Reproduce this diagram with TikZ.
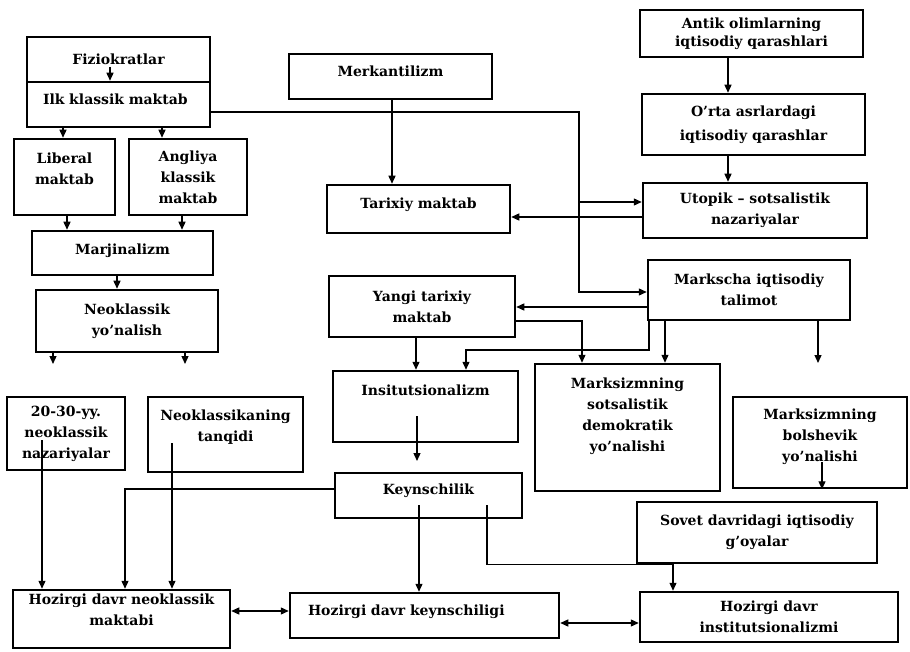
\documentclass[tikz,border=0pt]{standalone}
\usepackage{fontspec}
\setmainfont{DejaVu Serif}
\usetikzlibrary{arrows.meta,calc}
\newcommand\boxnode[6][]{\node[bx,#1,minimum width={(#4-#2)*1pt},minimum height={(#5-#3)*1pt}] (#6) at ({(#2+#4)/2},{(#3+#5)/2})}
\begin{document}
\begin{tikzpicture}[x=1pt,y=-1pt,
  bx/.style={draw, line width=2.5pt, align=center, font=\fontsize{14}{21}\selectfont\bfseries, inner sep=0pt},
  ln/.style={line width=1.3pt},
  arr/.style={ln, -{Triangle[length=8pt,width=7pt]}},
  darr/.style={ln, {Triangle[length=8pt,width=7pt]}-{Triangle[length=8pt,width=7pt]}}]
\useasboundingbox (0,0) rectangle (910,652);
\fill[white] (0,0) rectangle (910,652);

% boxes
\boxnode{27}{37}{210}{82}{fiz} {Fiziokratlar};
\boxnode[align=left,text width=151pt,inner xsep=16pt,text depth=10pt]{27}{82}{210}{127}{ilk} {Ilk klassik maktab};
\boxnode[text depth=16pt]{14}{139}{115}{215}{lib} {Liberal\\maktab};
\boxnode{129}{139}{247}{215}{ang} {Angliya\\klassik\\maktab};
\boxnode[text depth=8pt]{32}{231}{213}{275}{mar} {Marjinalizm};
\boxnode{36}{290}{218}{352}{neo} {Neoklassik\\yo’nalish};
\boxnode[text depth=10pt]{289}{54}{492}{99}{mer} {Merkantilizm};
\boxnode[text depth=12pt]{327}{185}{510}{233}{tar} {Tarixiy maktab};
\boxnode[font=\fontsize{14}{18}\selectfont\bfseries]{640}{10}{863}{57}{ant} {Antik olimlarning\\iqtisodiy qarashlari};
\boxnode[font=\fontsize{14}{24}\selectfont\bfseries]{642}{94}{865}{155}{ort} {O’rta asrlardagi\\iqtisodiy qarashlar};
\boxnode{643}{183}{867}{238}{uto} {Utopik – sotsalistik\\nazariyalar};
\boxnode{648}{260}{850}{320}{mark} {Markscha iqtisodiy\\talimot};
\boxnode{329}{276}{515}{337}{yan} {Yangi tarixiy\\maktab};
\boxnode[text depth=32pt]{333}{371}{518}{442}{ins} {Insitutsionalizm};
\boxnode[text depth=26pt]{535}{364}{720}{491}{sots} {Marksizmning\\sotsalistik\\demokratik\\yo’nalishi};
\boxnode[text depth=14pt]{733}{397}{907}{488}{bol} {Marksizmning\\bolshevik\\yo’nalishi};
\boxnode{7}{397}{125}{470}{k20} {20-30-yy.\\neoklassik\\nazariyalar};
\boxnode[text depth=18pt]{148}{397}{303}{472}{nkt} {Neoklassikaning\\tanqidi};
\boxnode[text depth=12pt]{335}{473}{522}{518}{key} {Keynschilik};
\boxnode{637}{502}{877}{563}{sov} {Sovet davridagi iqtisodiy\\g’oyalar};
\boxnode[text depth=18pt]{13}{590}{230}{648}{hneo} {Hozirgi davr neoklassik\\maktabi};
\boxnode[align=left,text width=233pt,inner xsep=18pt,text depth=10pt]{290}{593}{559}{638}{hkey} {Hozirgi davr keynschiligi};
\boxnode{640}{592}{898}{642}{hins} {Hozirgi davr\\institutsionalizmi};

% free ends and inner starts
\coordinate (fizin) at (110,67);
\coordinate (n1) at (53,364);
\coordinate (n2) at (185,364);
\coordinate (n3) at (818,363);
\coordinate (insin) at (417,416);
\coordinate (insout) at (417,461);
\coordinate (keyin1) at (419,505);
\coordinate (keyin2) at (487,505);
\coordinate (k20in) at (42,440);
\coordinate (nktin) at (172,443);
\coordinate (bolin) at (822,462);

% left column
\draw[arr] (fizin) -- (110,0 |- ilk.north);
\draw[arr] (63,0 |- ilk.south) -- (63,0 |- lib.north);
\draw[arr] (162,0 |- ilk.south) -- (162,0 |- ang.north);
\draw[arr] (67,0 |- lib.south) -- (67,0 |- mar.north);
\draw[arr] (182,0 |- ang.south) -- (182,0 |- mar.north);
\draw[arr] (117,0 |- mar.south) -- (117,0 |- neo.north);
\draw[arr] (53,0 |- neo.south) -- (n1);
\draw[arr] (185,0 |- neo.south) -- (n2);

% long line from Ilk klassik maktab
\draw[arr] (ilk.east |- 0,112) -- (579,112) |- (mark.west |- 0,292);
\draw[arr] (579,202) -- (uto.west |- 0,202);
\draw[arr] (uto.west |- 0,217) -- (tar.east |- 0,217);
\draw[arr] (392,0 |- mer.south) -- (392,0 |- tar.north);

% right column
\draw[arr] (728,0 |- ant.south) -- (728,0 |- ort.north);
\draw[arr] (728,0 |- ort.south) -- (728,0 |- uto.north);
\draw[arr] (mark.west |- 0,307) -- (yan.east |- 0,307);
\draw[arr] (yan.east |- 0,321) -| (582,0 |- sots.north);
\draw[arr] (649,0 |- mark.south) -- (649,350) -| (466,0 |- ins.north);
\draw[arr] (665,0 |- mark.south) -- (665,0 |- sots.north);
\draw[arr] (818,0 |- mark.south) -- (n3);
\draw[arr] (416,0 |- yan.south) -- (416,0 |- ins.north);
\draw[arr] (insin) -- (insout);
\draw[arr] (bolin) -- (822,0 |- bol.south);

% lower part
\draw[arr] (key.west |- 0,489) -| (125,0 |- hneo.north);
\draw[arr] (k20in) -- (42,0 |- hneo.north);
\draw[arr] (nktin) -- (172,0 |- hneo.north);
\draw[arr] (keyin1) -- (419,0 |- hkey.north);
\draw[ln] (keyin2) |- (673,0 |- sov.south);
\draw[arr] (673,0 |- sov.south) -- (673,0 |- hins.north);
\draw[darr] (hneo.east |- 0,611) -- (hkey.west |- 0,611);
\draw[darr] (hkey.east |- 0,623) -- (hins.west |- 0,623);
\end{tikzpicture}
\end{document}
